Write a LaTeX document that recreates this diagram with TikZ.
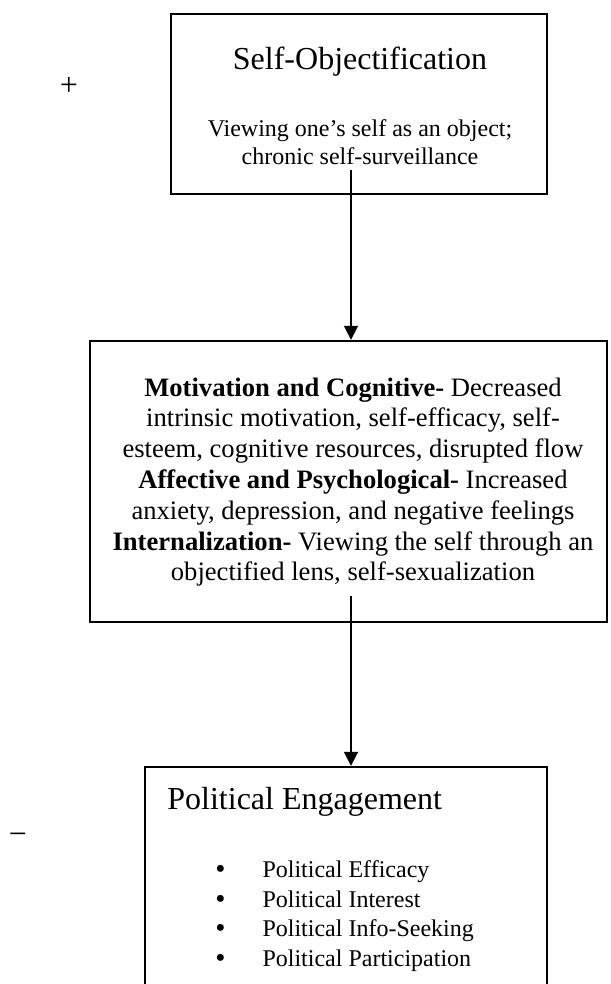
\documentclass[tikz,border=0pt]{standalone}
\usepackage{fontspec}
\setmainfont{Liberation Serif}
\usetikzlibrary{arrows.meta, positioning}

\newcommand{\listdot}{\raisebox{-0.6pt}{\fontsize{14.5}{12}\selectfont\textbullet}}

\begin{document}
\begin{tikzpicture}[
  x=0.5pt, y=-0.5pt,
  stage/.style={
    rectangle,
    draw=black,
    line width=1.2pt,
    inner sep=0pt
  },
  heading/.style={
    font=\fontsize{16}{19}\selectfont,
    inner sep=0pt
  },
  detail/.style={
    align=center,
    font=\fontsize{12}{14.2}\selectfont,
    inner sep=0pt
  },
  sign/.style={font=\fontsize{16}{19}\selectfont, inner sep=0pt},
  arrow/.style={-{Triangle[width=7pt,length=7pt]}, line width=0.9pt, draw=black}
]

\useasboundingbox (0,0) rectangle (610,984);

\node[stage, minimum width=188pt, minimum height=90pt] (selfobj) at (359,104) {};
\node[heading] (selfobjtitle) at (360,62) {Self-Objectification};
\node[detail] (selfobjtext) at (360,142) {Viewing one’s self as an object;\\chronic self-surveillance};

\node[stage, minimum width=258.5pt, minimum height=140.5pt] (effects) at (348.5,481.5) {};
\node[detail, font=\fontsize{13.3}{15.4}\selectfont] (effectstext) at (353,482) {%
  \textbf{Motivation and Cognitive-} Decreased\\
  intrinsic motivation, self-efficacy, self-\\
  esteem, cognitive resources, disrupted flow\\
  \textbf{Affective and Psychological-} Increased\\
  anxiety, depression, and negative feelings\\
  \textbf{Internalization-} Viewing the self through an\\
  objectified lens, self-sexualization};

\node[stage, minimum width=201pt, minimum height=116.5pt] (engage) at (346,883.5) {};
\node[heading, anchor=west] (engagetitle) at (167,802) {Political Engagement};
\node[anchor=west, inner sep=0pt, font=\fontsize{12}{14.75}\selectfont] (engagelist) at (215,916) {%
  \begin{tabular}{@{}l@{\hspace{18.5pt}}l@{}}
    \listdot & Political Efficacy\\
    \listdot & Political Interest\\
    \listdot & Political Info-Seeking\\
    \listdot & Political Participation
  \end{tabular}};

\node[sign] (plus) at (69,86) {+};
\node[sign] (minus) at (18,839) {−};

\coordinate (from1) at (351,170);
\coordinate (from2) at (351,596);
\draw[arrow] (from1) -- (from1 |- effects.north);
\draw[arrow] (from2) -- (from2 |- engage.north);

\end{tikzpicture}
\end{document}
